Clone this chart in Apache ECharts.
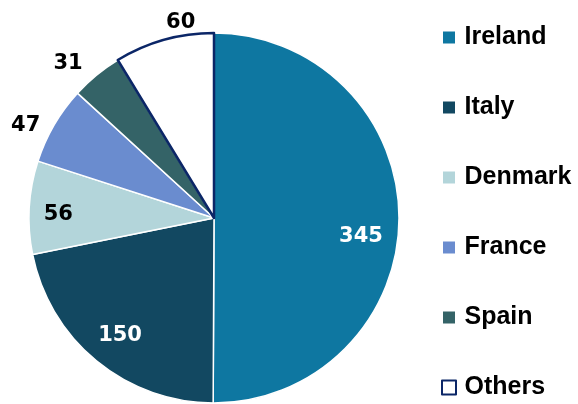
<!DOCTYPE html>
<html>
<head>
<meta charset="utf-8">
<style>html,body{margin:0;padding:0;background:#fff;}#c{width:578px;height:404px;}</style>
<script src="https://cdn.jsdelivr.net/npm/echarts@6/dist/echarts.min.js"></script>
</head>
<body>
<div id="c"></div>
<script>
const categories = ['Ireland', 'Italy', 'Denmark', 'France', 'Spain', 'Others'];
const values = [345, 150, 56, 47, 31, 60];
const colors = ['#0e77a1', '#124861', '#b3d5da', '#6a8ccf', '#346367', '#ffffff'];
const insideLabel = [true, true, true, false, false, false];
const insideLabelColor = ['#ffffff', '#ffffff', '#000000'];

const chart = echarts.init(document.getElementById('c'), null, {renderer: 'canvas'});
const CX = 214, CY = 218, R = 185;
const labelFont = {fontFamily: 'DejaVu Sans', fontWeight: 'bold', fontSize: 21};

const outsideLen = [0, 0, 0, 2, 17, 21];
const outsideLen2 = [0, 0, 0, 9, 0, 0];

const mainData = categories.map((n, i) => {
  const item = {
    name: n, value: values[i],
    itemStyle: {color: colors[i]},
    label: {show: !insideLabel[i]},
    labelLine: {show: false, length: outsideLen[i], length2: outsideLen2[i]}
  };
  if (n === 'Others') {
    item.itemStyle = {color: '#ffffff', borderColor: '#0b2667', borderWidth: 2.5};
  }
  return item;
});

const overlayData = categories.map((n, i) => ({
  name: n, value: values[i],
  label: {show: insideLabel[i], color: insideLabelColor[i] || '#000'}
}));

chart.setOption({
  animation: false,
  legend: {
    orient: 'vertical',
    left: 441,
    top: 25,
    height: 380,
    padding: 0,
    itemWidth: 21,
    itemHeight: 14,
    itemGap: 45,
    icon: 'path://M0,0h10v10h-10z',
    data: categories,
    textStyle: {fontFamily: 'Liberation Sans', fontWeight: 'bold', fontSize: 25, color: '#000', lineHeight: 25}
  },
  series: [
    {
      type: 'pie',
      center: [CX, CY],
      radius: [0, R],
      startAngle: 90,
      clockwise: true,
      avoidLabelOverlap: false,
      itemStyle: {borderColor: '#ffffff', borderWidth: 1.5},
      label: Object.assign({position: 'outside', formatter: '{c}', color: '#000', distanceToLabelLine: 5}, labelFont),
      labelLayout: function (p) {
        if (p.dataIndex === 5) return {dx: 42, dy: 3};
        return {dx: 2, dy: 2};
      },
      data: mainData,
      silent: true
    },
    {
      type: 'pie',
      center: [CX, CY],
      radius: [R * 0.6, R],
      startAngle: 90,
      clockwise: true,
      silent: true,
      avoidLabelOverlap: false,
      itemStyle: {color: 'rgba(0,0,0,0)', borderWidth: 0},
      label: Object.assign({position: 'inside', formatter: '{c}'}, labelFont),
      labelLayout: function (p) {
        if (p.dataIndex === 0) return {dx: -4, dy: 18};
        if (p.dataIndex === 2) return {dx: -5, dy: 5};
        return {dx: 2, dy: 1};
      },
      labelLine: {show: false},
      data: overlayData
    }
  ]
});
</script>
</body>
</html>
